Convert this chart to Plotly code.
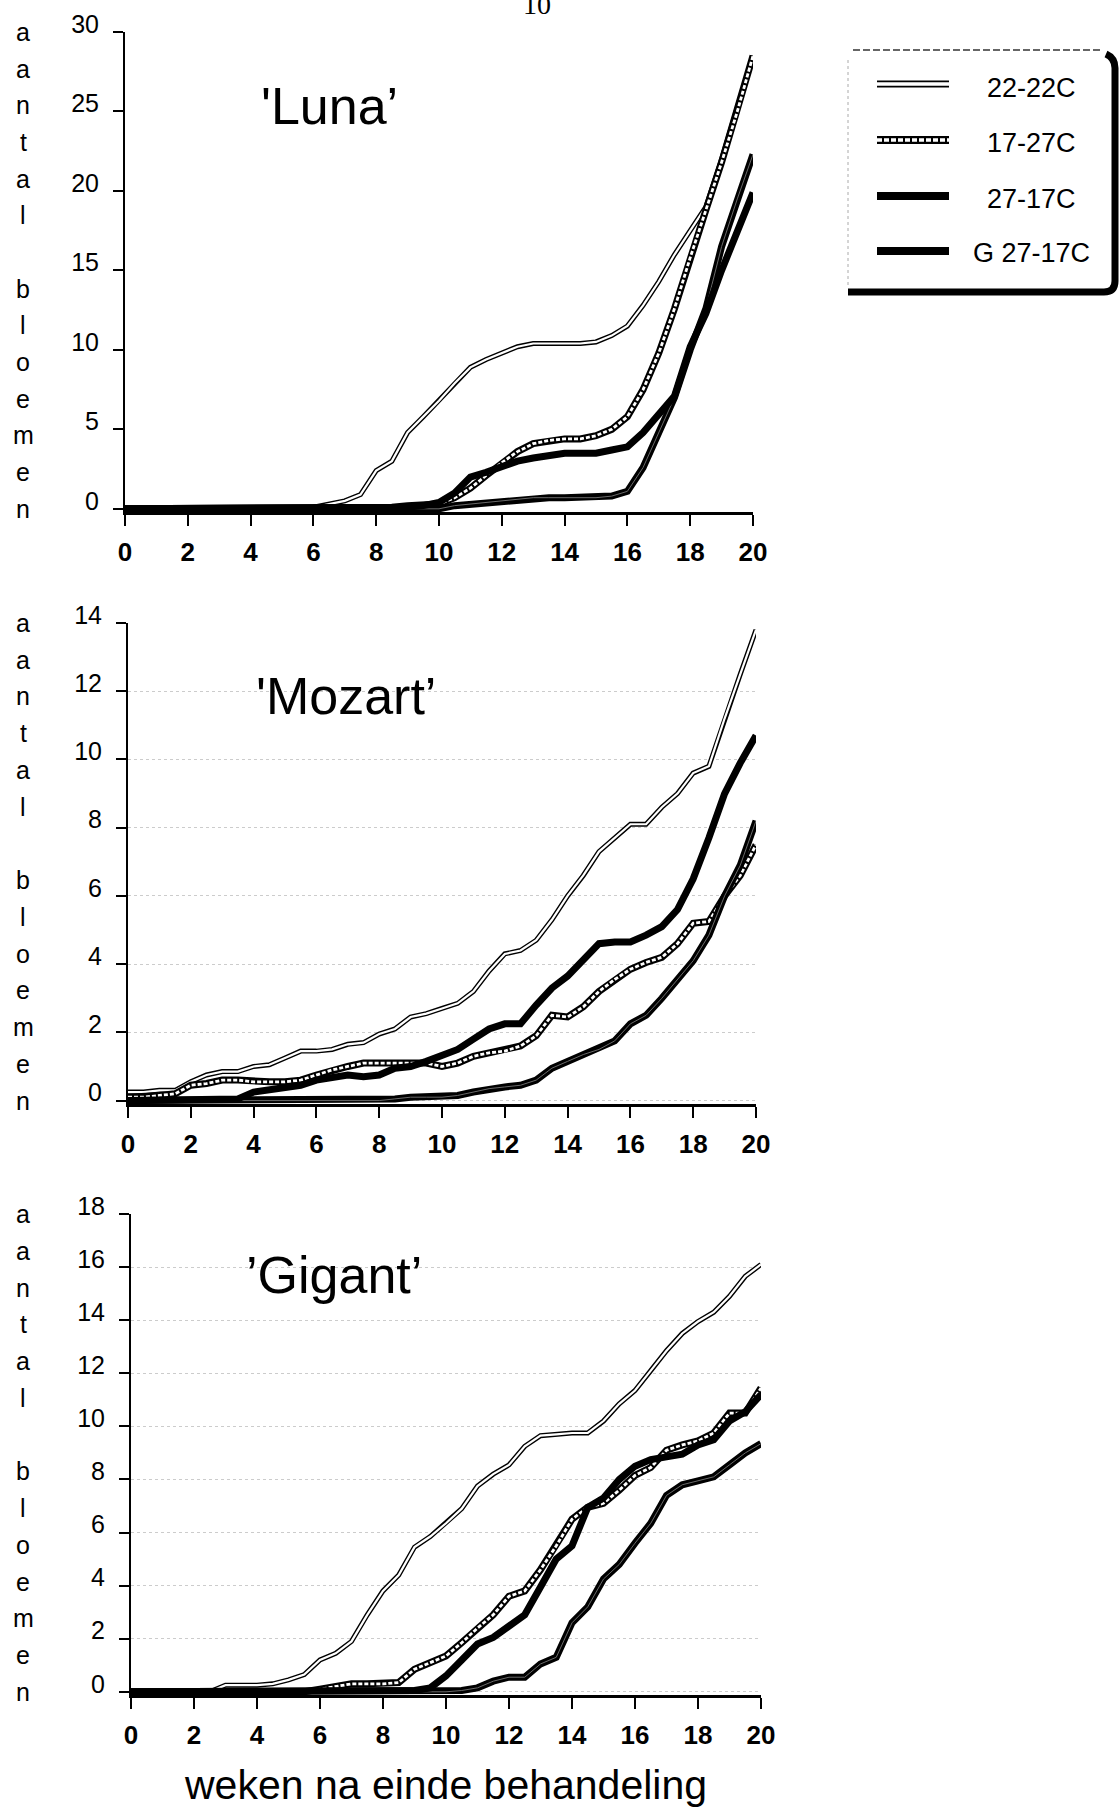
import plotly.graph_objects as go

W, H = 1120, 1810

# ---------------- data ----------------
weeks = [0, 0.5, 1, 1.5, 2, 2.5, 3, 3.5, 4, 4.5, 5, 5.5, 6, 6.5, 7, 7.5, 8, 8.5, 9, 9.5,
         10, 10.5, 11, 11.5, 12, 12.5, 13, 13.5, 14, 14.5, 15, 15.5, 16, 16.5, 17, 17.5,
         18, 18.5, 19, 19.5, 20]

series_names = ["22-22C", "17-27C", "27-17C", "G 27-17C"]

luna_22_22 = [0, 0, 0, 0, 0, 0, 0, 0, 0, 0, 0, 0, 0.1, 0.3, 0.5, 0.9, 2.4, 3.0, 4.8, 5.8,
              6.8, 7.9, 8.9, 9.4, 9.8, 10.2, 10.4, 10.4, 10.4, 10.4, 10.5, 10.9, 11.5, 12.8,
              14.3, 16.0, 17.5, 19.0, 22.0, 25.2, 28.5]
luna_17_27 = [0, 0, 0, 0, 0, 0, 0, 0, 0, 0, 0, 0, 0, 0, 0, 0, 0, 0.1, 0.2, 0.2,
              0.3, 0.7, 1.3, 2.1, 2.9, 3.6, 4.1, 4.3, 4.4, 4.4, 4.6, 5.0, 5.8, 7.5,
              9.8, 12.6, 15.8, 18.8, 21.8, 25.0, 28.5]
luna_27_17 = [0, 0, 0, 0, 0, 0, 0, 0, 0, 0, 0, 0, 0, 0, 0, 0, 0, 0, 0, 0,
              0, 0.2, 0.3, 0.4, 0.5, 0.6, 0.7, 0.7, 0.7, 0.7, 0.7, 0.8, 1.1, 2.6,
              4.8, 7.0, 10.0, 12.6, 16.5, 19.5, 22.3]
luna_g27_17 = [0, 0, 0, 0, 0, 0, 0, 0, 0, 0, 0, 0, 0, 0, 0, 0, 0, 0, 0.1, 0.2,
               0.4, 1.0, 2.0, 2.3, 2.7, 3.0, 3.2, 3.4, 3.5, 3.5, 3.5, 3.7, 3.9, 4.8,
               6.0, 7.1, 10.2, 12.3, 15.0, 17.5, 19.9]

mozart_22_22 = [0.25, 0.25, 0.3, 0.3, 0.55, 0.75, 0.85, 0.85, 1.0, 1.05, 1.25, 1.45, 1.45, 1.5,
                1.65, 1.7, 1.95, 2.1, 2.45, 2.55, 2.7, 2.85, 3.2, 3.8, 4.3, 4.4, 4.7, 5.3,
                6.0, 6.6, 7.3, 7.7, 8.1, 8.1, 8.6, 9.0, 9.6, 9.8, 11.2, 12.5, 13.8]
mozart_17_27 = [0.1, 0.1, 0.15, 0.2, 0.45, 0.5, 0.6, 0.6, 0.55, 0.55, 0.55, 0.6, 0.75, 0.9,
                1.0, 1.1, 1.1, 1.1, 1.1, 1.1, 1.0, 1.1, 1.3, 1.4, 1.45, 1.6, 1.9, 2.5,
                2.45, 2.75, 3.2, 3.55, 3.85, 4.05, 4.2, 4.6, 5.2, 5.25, 6.0, 6.6, 7.5]
mozart_27_17 = [0, 0, 0, 0, 0, 0, 0, 0, 0, 0, 0, 0, 0, 0, 0, 0, 0, 0.05, 0.1, 0.1,
                0.1, 0.15, 0.25, 0.35, 0.4, 0.45, 0.6, 0.95, 1.15, 1.35, 1.5, 1.75, 2.25, 2.5,
                3.0, 3.55, 4.1, 4.85, 6.0, 6.9, 8.2]
mozart_g27_17 = [0, 0, 0, 0, 0, 0, 0, 0.05, 0.25, 0.3, 0.4, 0.45, 0.6, 0.7, 0.75, 0.7,
                 0.75, 0.95, 1.0, 1.15, 1.35, 1.5, 1.8, 2.1, 2.25, 2.25, 2.8, 3.3, 3.65, 4.1,
                 4.6, 4.65, 4.65, 4.85, 5.1, 5.6, 6.5, 7.7, 9.0, 9.9, 10.7]

gigant_22_22 = [0, 0, 0, 0, 0, 0, 0.25, 0.25, 0.25, 0.3, 0.45, 0.65, 1.2, 1.45, 1.9, 2.9,
                3.8, 4.4, 5.45, 5.85, 6.35, 6.9, 7.75, 8.2, 8.55, 9.25, 9.65, 9.7, 9.75, 9.75,
                10.2, 10.85, 11.35, 12.1, 12.85, 13.5, 13.95, 14.3, 14.9, 15.65, 16.1]
gigant_17_27 = [0, 0, 0, 0, 0, 0, 0, 0, 0, 0, 0, 0, 0.1, 0.2, 0.3, 0.3, 0.3, 0.35, 0.85, 1.1,
                1.35, 1.85, 2.4, 2.9, 3.6, 3.8, 4.6, 5.5, 6.5, 6.95, 7.1, 7.6, 8.15, 8.45,
                9.1, 9.3, 9.45, 9.75, 10.5, 10.5, 11.45]
gigant_27_17 = [0, 0, 0, 0, 0, 0, 0, 0, 0, 0, 0, 0, 0, 0, 0, 0, 0, 0, 0, 0,
                0, 0.05, 0.15, 0.4, 0.55, 0.55, 1.05, 1.3, 2.6, 3.2, 4.25, 4.8, 5.6, 6.35,
                7.4, 7.8, 7.95, 8.1, 8.55, 9.0, 9.35]
gigant_g27_17 = [0, 0, 0, 0, 0, 0, 0, 0, 0, 0, 0, 0, 0, 0, 0, 0, 0, 0, 0.05, 0.15,
                 0.6, 1.2, 1.8, 2.05, 2.5, 2.9, 3.95, 5.0, 5.5, 6.95, 7.3, 8.0, 8.5, 8.75,
                 8.85, 8.95, 9.3, 9.5, 10.2, 10.55, 11.2]

x_tickvals = [0, 2, 4, 6, 8, 10, 12, 14, 16, 18, 20]
luna_yticks = [0, 5, 10, 15, 20, 25, 30]
mozart_yticks = [0, 2, 4, 6, 8, 10, 12, 14]
gigant_yticks = [0, 2, 4, 6, 8, 10, 12, 14, 16, 18]

titles = ["'Luna\u2019", "'Mozart\u2019", "\u2019Gigant\u2019"]
y_letters = ["a", "a", "n", "t", "a", "l", "", "b", "l", "o", "e", "m", "e", "n"]
x_title = "weken na einde behandeling"

# ---------------- layout helpers ----------------
FONT = "Liberation Sans, Arial, Helvetica, sans-serif"


def px(x):
    return x / W


def py(y):
    return 1 - y / H


# line styles: list of layers (outline first)
styles = {
    "22-22C": [dict(color="black", width=5), dict(color="white", width=2.2)],
    "17-27C": [dict(color="black", width=7), dict(color="white", width=2.8, dash="4px,2px")],
    "27-17C": [dict(color="black", width=7), dict(color="#6a6a6a", width=1)],
    "G 27-17C": [dict(color="black", width=7)],
}

panels = [
    dict(data=[luna_22_22, luna_17_27, luna_27_17, luna_g27_17], yticks=luna_yticks,
         yrange=[-0.2, 30], xpx=(125, 753), ypx=(512, 32), title_pos=(329, 106), grid=False),
    dict(data=[mozart_22_22, mozart_17_27, mozart_27_17, mozart_g27_17], yticks=mozart_yticks,
         yrange=[-0.1, 14], xpx=(128, 756), ypx=(1104, 623), title_pos=(346, 696), grid=True),
    dict(data=[gigant_22_22, gigant_17_27, gigant_27_17, gigant_g27_17], yticks=gigant_yticks,
         yrange=[-0.12, 18], xpx=(131, 761), ypx=(1695, 1214), title_pos=(334, 1275), grid=True),
]

fig = go.Figure()
layout = dict(
    width=W, height=H, margin=dict(l=0, r=0, t=0, b=0, pad=0, autoexpand=False),
    paper_bgcolor="white", plot_bgcolor="white", showlegend=False,
    font=dict(family=FONT, color="black"),
)
annotations = []
shapes = []

for i, p in enumerate(panels):
    sfx = "" if i == 0 else str(i + 1)
    xa, ya = "x" + sfx, "y" + sfx
    for name, vals in zip(series_names, p["data"]):
        for layer in styles[name]:
            fig.add_trace(go.Scatter(x=weeks, y=vals, mode="lines", line=layer,
                                     xaxis=xa, yaxis=ya, hoverinfo="skip", name=name))
    layout["xaxis" + sfx] = dict(
        domain=[px(p["xpx"][0]), px(p["xpx"][1])], anchor=ya, range=[0, 20],
        automargin=False,
        tickvals=x_tickvals, ticks="outside", ticklen=11, tickwidth=2, tickcolor="black",
        showline=True, linecolor="black", linewidth=3, showgrid=False, zeroline=False,
        tickfont=dict(size=26, family=FONT, color="black", weight="bold"),
        ticklabelstandoff=4,
    )
    layout["yaxis" + sfx] = dict(
        domain=[py(p["ypx"][0]), py(p["ypx"][1])], anchor=xa, range=p["yrange"],
        automargin=False,
        tickvals=p["yticks"], ticks="outside", ticklen=10, tickwidth=2, tickcolor="black",
        showline=True, linecolor="black", linewidth=2, zeroline=False,
        showgrid=p["grid"], gridcolor="#cccccc", gridwidth=1, griddash="dot",
        tickfont=dict(size=25, family=FONT, color="black"), ticklabelstandoff=9,
        ticklabelshift=-8,
    )
    # title
    tx, ty = p["title_pos"]
    annotations.append(dict(text=titles[i], x=px(tx), y=py(ty), xref="paper", yref="paper",
                            showarrow=False, xanchor="center", yanchor="middle",
                            font=dict(size=52, family=FONT, color="black")))
    # vertical y-axis label letters, spread over the axis extent
    top_val = p["yticks"][-1]
    n = len(y_letters)
    for k, letter in enumerate(y_letters):
        if not letter:
            continue
        yv = top_val - k * top_val / (n - 1)
        annotations.append(dict(text=letter, x=px(23), y=yv, xref="paper", yref=ya,
                                showarrow=False, xanchor="center", yanchor="middle",
                                font=dict(size=25, family=FONT, color="black")))

# x-axis title
annotations.append(dict(text=x_title, x=px(446), y=py(1785), xref="paper", yref="paper",
                        showarrow=False, xanchor="center", yanchor="middle",
                        font=dict(size=41, family=FONT, color="black")))
# page number (partly cut at the top, as in the scanned page)
annotations.append(dict(text="10", x=px(537), y=1.0, xref="paper", yref="paper",
                        showarrow=False, xanchor="center", yanchor="middle", yshift=-4,
                        font=dict(size=28, family="Liberation Serif, serif", color="black")))

# ---------------- custom legend ----------------
shapes.append(dict(type="rect", xref="paper", yref="paper", x0=px(849), x1=px(1111),
                   y0=py(290), y1=py(50), fillcolor="white", line=dict(width=0), layer="above"))
shapes.append(dict(type="line", xref="paper", yref="paper", x0=px(853), x1=px(1100),
                   y0=py(50), y1=py(50), line=dict(color="#333", width=1.5, dash="7px,3px"),
                   layer="above"))
shapes.append(dict(type="line", xref="paper", yref="paper", x0=px(848), x1=px(848),
                   y0=py(60), y1=py(286), line=dict(color="#aaa", width=1, dash="dot"),
                   layer="above"))
shadow_path = (f"M {px(848)},{py(292)} L {px(1104)},{py(292)} "
               f"Q {px(1115)},{py(292)} {px(1115)},{py(281)} "
               f"L {px(1115)},{py(68)} Q {px(1115)},{py(58)} {px(1106)},{py(54)}")
shapes.append(dict(type="path", xref="paper", yref="paper", path=shadow_path,
                   line=dict(color="black", width=7), layer="above"))

legend_rows_y = [84, 140, 196, 251]
legend_text_y = [88, 143, 199, 253]
legend_sample_styles = {
    "22-22C": [dict(color="black", width=7), dict(color="white", width=3.6)],
    "17-27C": [dict(color="black", width=8), dict(color="white", width=3.5, dash="5px,2px")],
    "27-17C": [dict(color="black", width=8)],
    "G 27-17C": [dict(color="black", width=8)],
}
for name, ly, tyy in zip(series_names, legend_rows_y, legend_text_y):
    for layer in legend_sample_styles[name]:
        shapes.append(dict(type="line", xref="paper", yref="paper", x0=px(877), x1=px(949),
                           y0=py(ly), y1=py(ly), line=layer, layer="above"))
    annotations.append(dict(text=name, x=px(1031), y=py(tyy), xref="paper", yref="paper",
                            showarrow=False, xanchor="center", yanchor="middle",
                            font=dict(size=27, family=FONT, color="black")))

layout["annotations"] = annotations
layout["shapes"] = shapes
fig.update_layout(**layout)
fig.write_html("out.html",
               config={"displayModeBar": False, "staticPlot": True},
               post_script="document.body.style.margin='0px';"
                           "document.body.style.overflow='hidden';")
